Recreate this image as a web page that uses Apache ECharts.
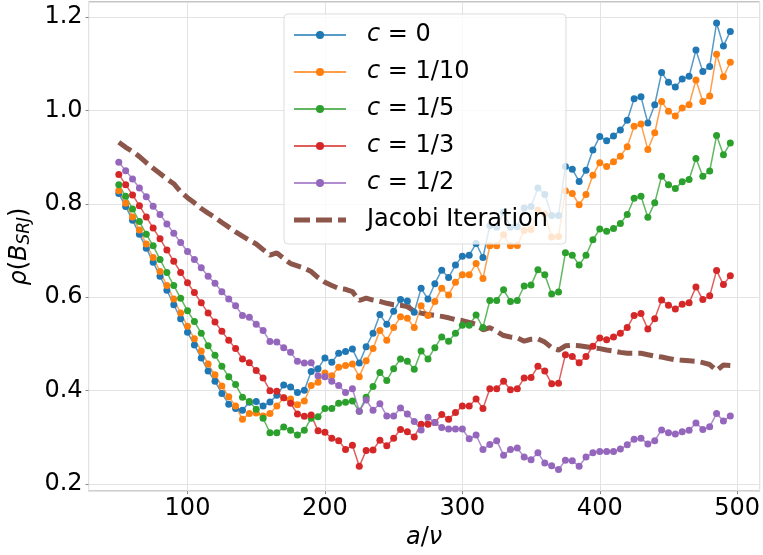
<!DOCTYPE html>
<html><head><meta charset="utf-8">
<script src="https://cdn.jsdelivr.net/npm/echarts@6/dist/echarts.min.js"></script>
<style>html,body{margin:0;padding:0;background:#fff}#c{width:763px;height:555px}</style>
</head><body><div id="c"></div>
<script>
const xValues = [50,55,60,65,70,75,80,85,90,95,100,105,110,115,120,125,130,135,140,145,
150,155,160,165,170,175,180,185,190,195,200,205,210,215,220,225,230,235,240,245,
250,255,260,265,270,275,280,285,290,295,300,305,310,315,320,325,330,335,340,345,
350,355,360,365,370,375,380,385,390,395,400,405,410,415,420,425,430,435,440,445,
450,455,460,465,470,475,480,485,490,495];

const c0 = [0.822,0.794,0.765,0.735,0.705,0.675,0.645,0.615,0.584,0.554,0.525,0.498,0.470,0.442,0.420,0.394,0.371,0.362,0.358,0.375,
0.377,0.367,0.376,0.390,0.412,0.408,0.396,0.401,0.441,0.447,0.470,0.461,0.480,0.484,0.489,0.459,0.494,0.523,0.563,0.542,
0.570,0.595,0.592,0.568,0.619,0.596,0.629,0.658,0.642,0.669,0.688,0.690,0.715,0.685,0.753,0.750,0.782,0.750,0.751,0.791,
0.794,0.834,0.820,0.775,0.775,0.880,0.874,0.848,0.872,0.915,0.944,0.935,0.945,0.958,0.979,1.025,1.029,0.973,1.012,1.081,
1.060,1.050,1.067,1.073,1.129,1.083,1.094,1.187,1.138,1.169];

const c10 = [0.828,0.801,0.772,0.744,0.714,0.685,0.655,0.625,0.596,0.566,0.538,0.511,0.485,0.457,0.434,0.410,0.387,0.367,0.339,0.351,
0.352,0.346,0.351,0.367,0.385,0.382,0.370,0.378,0.411,0.418,0.438,0.432,0.450,0.454,0.457,0.430,0.464,0.490,0.529,0.508,
0.535,0.558,0.555,0.535,0.582,0.561,0.591,0.619,0.605,0.632,0.648,0.648,0.672,0.640,0.710,0.710,0.734,0.710,0.711,0.743,
0.745,0.787,0.778,0.729,0.730,0.828,0.822,0.798,0.820,0.861,0.888,0.880,0.890,0.902,0.922,0.966,0.971,0.916,0.952,1.019,
0.998,0.988,1.005,1.012,1.065,1.019,1.031,1.120,1.072,1.103];

const c5 = [0.841,0.816,0.789,0.762,0.735,0.710,0.681,0.653,0.625,0.598,0.571,0.548,0.523,0.496,0.476,0.452,0.430,0.413,0.386,0.377,
0.360,0.341,0.310,0.310,0.322,0.315,0.305,0.315,0.341,0.344,0.362,0.362,0.373,0.375,0.378,0.356,0.386,0.409,0.439,0.422,
0.447,0.468,0.463,0.446,0.485,0.468,0.492,0.515,0.506,0.523,0.540,0.540,0.562,0.535,0.593,0.593,0.616,0.591,0.593,0.624,
0.626,0.659,0.648,0.607,0.611,0.695,0.690,0.669,0.690,0.723,0.746,0.741,0.747,0.758,0.777,0.812,0.816,0.771,0.802,0.859,
0.841,0.833,0.847,0.852,0.897,0.859,0.870,0.946,0.905,0.930];

const c3 = [0.863,0.841,0.819,0.796,0.772,0.748,0.725,0.701,0.677,0.653,0.631,0.610,0.588,0.566,0.547,0.527,0.508,0.490,0.468,0.460,
0.443,0.427,0.400,0.399,0.385,0.373,0.350,0.345,0.348,0.314,0.311,0.298,0.293,0.274,0.283,0.238,0.272,0.273,0.294,0.282,
0.298,0.317,0.312,0.301,0.328,0.328,0.332,0.349,0.339,0.353,0.367,0.367,0.382,0.362,0.404,0.404,0.420,0.402,0.404,0.427,
0.428,0.452,0.442,0.415,0.416,0.477,0.473,0.460,0.473,0.495,0.513,0.509,0.515,0.523,0.535,0.561,0.565,0.532,0.554,0.594,
0.583,0.575,0.585,0.588,0.622,0.595,0.603,0.657,0.627,0.646];

const c2 = [0.889,0.871,0.853,0.834,0.815,0.795,0.777,0.757,0.737,0.717,0.698,0.681,0.663,0.645,0.630,0.612,0.596,0.582,0.561,0.557,
0.542,0.529,0.505,0.504,0.492,0.482,0.463,0.459,0.460,0.432,0.430,0.420,0.411,0.396,0.404,0.356,0.380,0.358,0.372,0.346,
0.346,0.363,0.350,0.334,0.316,0.343,0.332,0.321,0.318,0.318,0.318,0.297,0.305,0.274,0.285,0.293,0.262,0.274,0.277,0.258,
0.252,0.267,0.245,0.239,0.231,0.251,0.250,0.238,0.258,0.267,0.270,0.270,0.270,0.275,0.284,0.296,0.298,0.286,0.293,0.316,
0.310,0.307,0.312,0.315,0.331,0.317,0.323,0.351,0.335,0.346];

const jacobi = [0.932,0.921,0.912,0.901,0.888,0.876,0.865,0.853,0.843,0.826,0.813,0.802,0.790,0.780,0.771,0.760,0.750,0.740,0.731,0.722,
0.714,0.702,0.690,0.695,0.683,0.672,0.667,0.662,0.655,0.642,0.632,0.625,0.619,0.617,0.612,0.593,0.598,0.594,0.591,0.587,
0.584,0.583,0.580,0.570,0.566,0.563,0.561,0.559,0.556,0.552,0.550,0.546,0.542,0.530,0.535,0.527,0.518,0.515,0.513,0.506,
0.510,0.511,0.504,0.492,0.487,0.496,0.497,0.496,0.494,0.492,0.490,0.487,0.485,0.482,0.480,0.480,0.480,0.477,0.474,0.472,
0.469,0.466,0.465,0.464,0.463,0.460,0.456,0.443,0.455,0.454];

const seriesNames = ['c = 0','c = 1/10','c = 1/5','c = 1/3','c = 1/2','Jacobi Iteration'];
const seriesColors = ['#1f77b4','#ff7f0e','#2ca02c','#d62728','#9467bd','#8c564b'];
const seriesValues = [c0, c10, c5, c3, c2];

const FONT = 'DejaVu Sans';
const pair = arr => xValues.map((x, i) => [x, arr[i]]);

const series = seriesValues.map((vals, k) => ({
  name: seriesNames[k],
  type: 'line',
  data: pair(vals),
  symbol: 'circle',
  symbolSize: 7,
  color: seriesColors[k],
  itemStyle: { color: seriesColors[k] },
  lineStyle: { color: seriesColors[k], width: 1.5, opacity: 0.75 },
  emphasis: { disabled: true },
  animation: false
}));
series.push({
  name: seriesNames[5],
  type: 'line',
  data: pair(jacobi),
  showSymbol: false,
  symbol: 'none',
  color: seriesColors[5],
  lineStyle: { color: seriesColors[5], width: 5, type: [15, 6] },
  emphasis: { disabled: true },
  animation: false
});

const dashIcon = 'path://M0 0H16V5H0Z M22 0H38V5H22Z M44 0H52V5H44Z';
const legendData = seriesNames.map((n, k) => k === 5
  ? { name: n, icon: dashIcon, itemStyle: { color: seriesColors[5] } }
  : { name: n });

const chart = echarts.init(document.getElementById('c'), null, { renderer: 'canvas' });
chart.setOption({
  backgroundColor: '#fff',
  animation: false,
  grid: { left: 86, top: 2, width: 676, height: 495, show: true, borderColor: '#888', borderWidth: 1, backgroundColor: 'transparent' },
  xAxis: {
    type: 'value', min: 28, max: 516.3, splitNumber: 5,
    name: '{i|a}/{i|ν}', nameLocation: 'middle', nameGap: 31,
    nameTextStyle: { fontFamily: FONT, fontSize: 24, color: '#000', rich: { i: { fontFamily: FONT, fontSize: 24, fontStyle: 'italic', color: '#000' } } },
    axisLine: { show: false },
    axisTick: { show: true, length: 3, lineStyle: { color: '#888' } },
    axisLabel: { fontFamily: FONT, fontSize: 24, color: '#000', margin: 6, showMinLabel: false, showMaxLabel: false },
    splitLine: { show: true, lineStyle: { color: '#e3e3e3', width: 1 } }
  },
  yAxis: {
    type: 'value', min: 0.185, max: 1.232, splitNumber: 5,
    name: '{i|ρ}({i|B}{s|SRJ})', nameLocation: 'middle', nameGap: 38, nameRotate: 90,
    nameTextStyle: { fontFamily: FONT, fontSize: 24, color: '#000',
      rich: { i: { fontFamily: FONT, fontSize: 24, fontStyle: 'italic', color: '#000' },
              s: { fontFamily: FONT, fontSize: 17, fontStyle: 'italic', color: '#000', verticalAlign: 'bottom', padding: [10, 0, 0, 0] } } },
    axisLine: { show: false },
    axisTick: { show: true, length: 3, lineStyle: { color: '#888' } },
    axisLabel: { fontFamily: FONT, fontSize: 24, color: '#000', margin: 6, showMinLabel: false, showMaxLabel: false,
      formatter: v => v.toFixed(1) },
    splitLine: { show: true, lineStyle: { color: '#e3e3e3', width: 1 } }
  },
  legend: {
    orient: 'vertical', left: 284, top: 14,
    padding: [7, 18, 10, 9],
    itemWidth: 52, itemHeight: 10, itemGap: 9,
    backgroundColor: 'rgba(255,255,255,0.8)',
    borderColor: '#dddddd', borderWidth: 1, borderRadius: 4,
    data: legendData,
    formatter: name => name.startsWith('c') ? '{i|c}' + name.slice(1) : name,
    textStyle: { fontFamily: FONT, fontSize: 24, color: '#000', lineHeight: 28, padding: [0, 0, 0, 16],
      rich: { i: { fontFamily: FONT, fontSize: 24, fontStyle: 'italic', color: '#000' } } }
  },
  series: series
});
</script>
</body></html>
